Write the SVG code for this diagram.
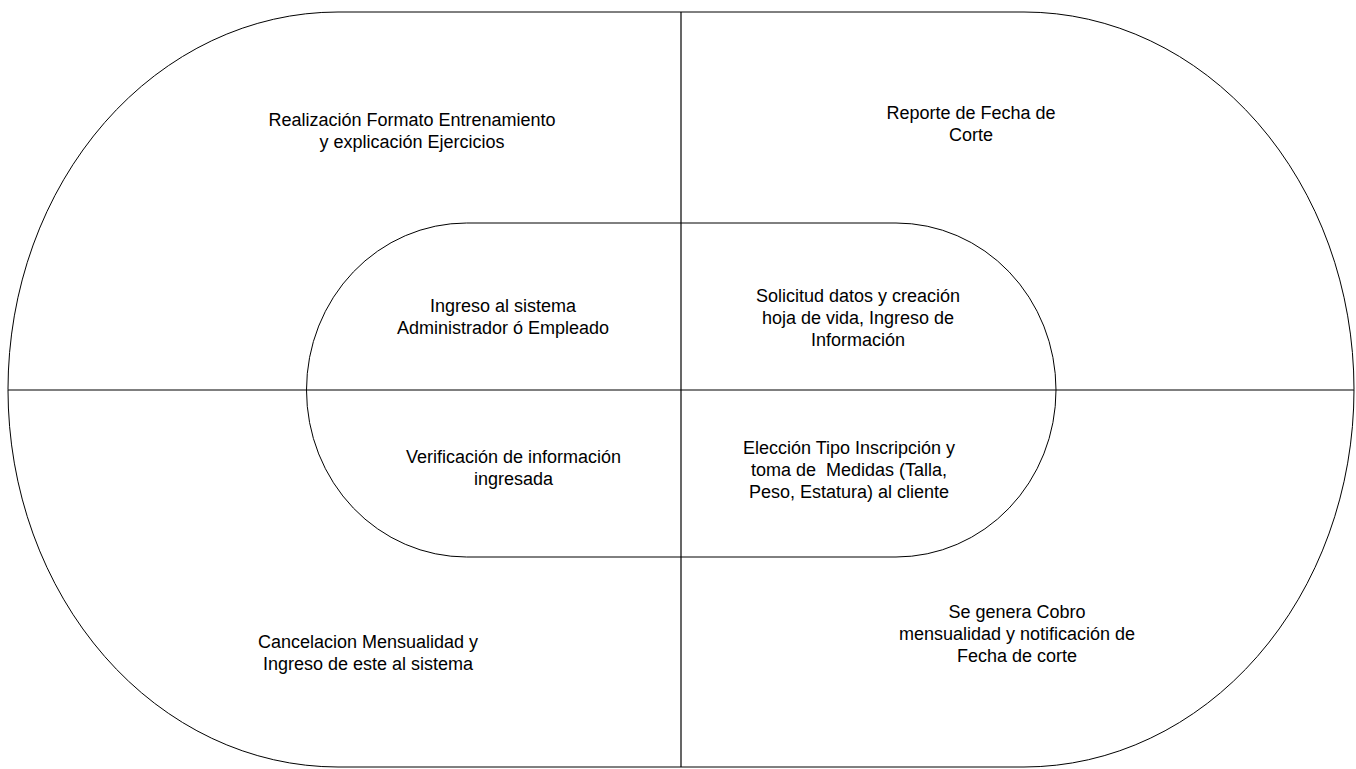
<svg xmlns="http://www.w3.org/2000/svg" width="1356" height="769" viewBox="0 0 1356 769">
  <style>
    .shape { fill: none; stroke: #000; stroke-width: 1; }
    .axis { stroke: #000; stroke-width: 1.2; }
    .lbl { font-family: "Liberation Sans", Arial, sans-serif; font-size: 18px; fill: #000; text-anchor: middle; white-space: pre; }
  </style>
  <rect width="1356" height="769" fill="#fff"/>

  <!-- outer track -->
  <g id="outer-track">
    <path class="shape" d="M 338,12 H 1024 A 330 377.5 0 0 1 1024,767 H 338 A 330 377.5 0 0 1 338,12 Z"/>
  </g>
  <!-- inner track -->
  <g id="inner-track">
    <path class="shape" d="M 466.5,223 H 896 A 160 167 0 0 1 896,557 H 466.5 A 160 167 0 0 1 466.5,223 Z"/>
  </g>

  <!-- dividing axes -->
  <g id="connectors">
    <line class="axis" x1="681" y1="12" x2="681" y2="767"/>
    <line class="axis" x1="8" y1="390" x2="1354" y2="390"/>
  </g>

  <g id="step-entrenamiento">
    <text class="lbl" x="412" y="126">Realización Formato Entrenamiento</text>
    <text class="lbl" x="412" y="148">y explicación Ejercicios</text>
  </g>
  <g id="step-reporte">
    <text class="lbl" x="971" y="119">Reporte de Fecha de</text>
    <text class="lbl" x="971" y="141">Corte</text>
  </g>
  <g id="step-ingreso">
    <text class="lbl" x="503" y="311.5">Ingreso al sistema</text>
    <text class="lbl" x="503" y="333.5">Administrador ó Empleado</text>
  </g>
  <g id="step-solicitud">
    <text class="lbl" x="858" y="301.5">Solicitud datos y creación</text>
    <text class="lbl" x="858" y="323.5">hoja de vida, Ingreso de</text>
    <text class="lbl" x="858" y="345.5">Información</text>
  </g>
  <g id="step-verificacion">
    <text class="lbl" x="513.5" y="463">Verificación de información</text>
    <text class="lbl" x="513.5" y="485">ingresada</text>
  </g>
  <g id="step-eleccion">
    <text class="lbl" x="849" y="454">Elección Tipo Inscripción y</text>
    <text class="lbl" x="849" y="476">toma de  Medidas (Talla,</text>
    <text class="lbl" x="849" y="498">Peso, Estatura) al cliente</text>
  </g>
  <g id="step-cancelacion">
    <text class="lbl" x="368" y="648">Cancelacion Mensualidad y</text>
    <text class="lbl" x="368" y="670">Ingreso de este al sistema</text>
  </g>
  <g id="step-cobro">
    <text class="lbl" x="1017" y="618">Se genera Cobro</text>
    <text class="lbl" x="1017" y="640">mensualidad y notificación de</text>
    <text class="lbl" x="1017" y="662">Fecha de corte</text>
  </g>
</svg>
